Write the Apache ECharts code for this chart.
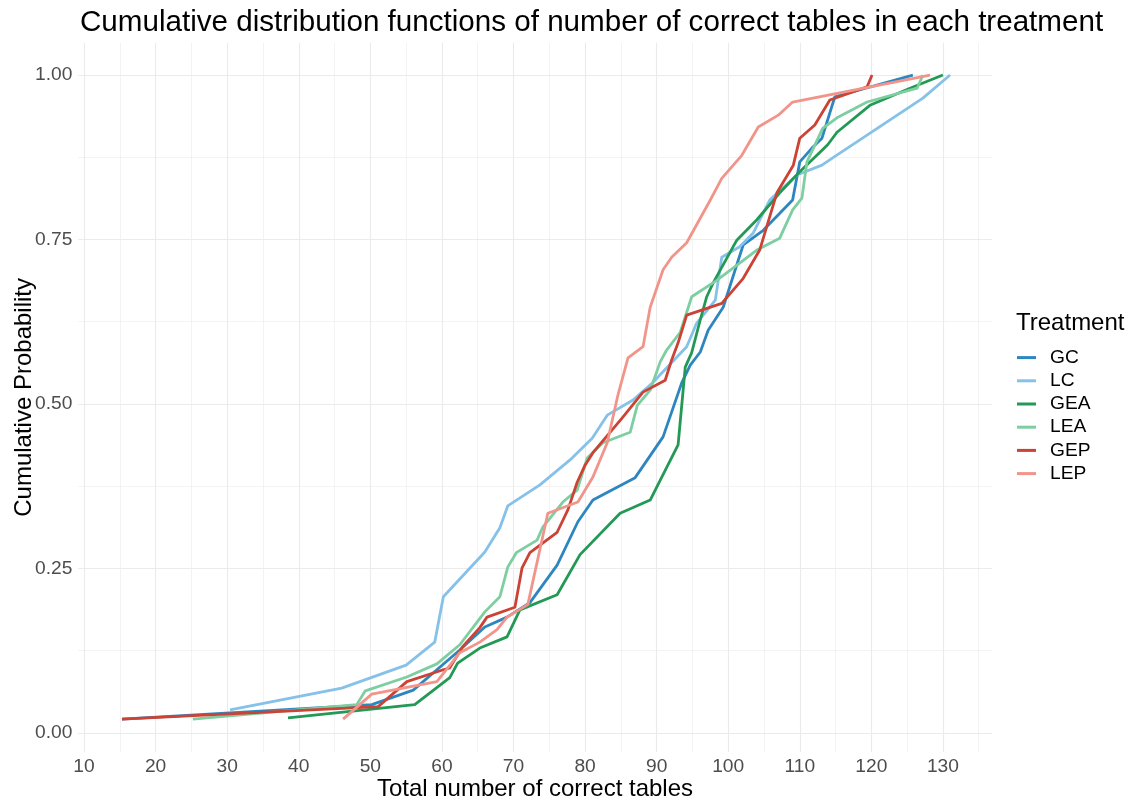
<!DOCTYPE html>
<html>
<head>
<meta charset="utf-8">
<script src="https://cdn.jsdelivr.net/npm/echarts@6/dist/echarts.min.js"></script>
<style>
html,body{margin:0;padding:0;background:#fff;}
#chart{width:1127px;height:801px;}
</style>
</head>
<body>
<div id="chart"></div>
<script>
// ---- data ----
const treatments = ["GC", "LC", "GEA", "LEA", "GEP", "LEP"];
const colors = ["#2E86C1", "#85C1E9", "#229954", "#7DCEA0", "#CB4335", "#F1948A"];

const gcX = [15.3, 50.2, 56.0, 62.5, 66.0, 69.1, 72.3, 76.1, 79.0, 81.1, 87.0, 90.9, 93.5, 94.7, 96.1, 97.2, 99.3, 102.1, 104.9, 109.0, 110.0, 111.7, 113.1, 114.9, 125.8];
const gcY = [0.021, 0.043, 0.065, 0.126, 0.161, 0.176, 0.198, 0.255, 0.321, 0.354, 0.388, 0.450, 0.532, 0.559, 0.579, 0.612, 0.647, 0.742, 0.764, 0.810, 0.868, 0.889, 0.904, 0.967, 1.0];

const lcX = [30.4, 46.0, 55.0, 59.0, 60.2, 66.0, 68.1, 69.2, 73.7, 77.9, 81.0, 83.1, 86.7, 89.4, 94.2, 95.6, 98.2, 99.1, 101.6, 103.5, 105.8, 109.6, 113.1, 114.6, 127.2, 131.0];
const lcY = [0.035, 0.068, 0.103, 0.138, 0.207, 0.275, 0.312, 0.345, 0.377, 0.415, 0.448, 0.483, 0.506, 0.532, 0.587, 0.623, 0.658, 0.723, 0.739, 0.760, 0.810, 0.848, 0.863, 0.874, 0.965, 1.0];

const geaX = [38.5, 56.2, 61.1, 62.2, 65.3, 69.1, 70.9, 76.1, 79.3, 84.9, 89.1, 93.0, 94.0, 94.9, 96.1, 97.0, 97.9, 101.2, 104.0, 107.2, 110.0, 113.9, 115.2, 119.8, 125.4, 130.0];
const geaY = [0.023, 0.043, 0.084, 0.106, 0.129, 0.146, 0.187, 0.210, 0.271, 0.334, 0.354, 0.438, 0.556, 0.578, 0.628, 0.663, 0.684, 0.749, 0.780, 0.821, 0.853, 0.894, 0.913, 0.954, 0.980, 1.0];

const leaX = [25.2, 48.1, 49.3, 55.1, 59.3, 62.5, 66.0, 68.1, 69.2, 70.4, 73.3, 74.1, 76.9, 78.9, 80.3, 82.5, 86.3, 87.3, 89.1, 90.5, 91.4, 93.3, 94.9, 98.4, 104.0, 107.2, 109.0, 110.3, 111.0, 113.2, 115.2, 119.4, 126.4, 127.2];
const leaY = [0.021, 0.043, 0.064, 0.085, 0.105, 0.134, 0.184, 0.207, 0.252, 0.274, 0.293, 0.313, 0.351, 0.369, 0.418, 0.441, 0.457, 0.498, 0.521, 0.564, 0.582, 0.609, 0.663, 0.688, 0.734, 0.752, 0.795, 0.813, 0.868, 0.919, 0.935, 0.959, 0.980, 1.0];

const gepX = [15.3, 51.1, 55.1, 60.2, 61.1, 62.9, 65.3, 66.3, 70.2, 71.2, 72.3, 76.1, 77.6, 78.9, 80.0, 81.1, 85.2, 88.1, 91.2, 92.1, 93.0, 94.2, 99.1, 102.1, 104.4, 106.8, 109.1, 110.0, 112.1, 114.2, 119.4, 120.1];
const gepY = [0.021, 0.040, 0.078, 0.096, 0.099, 0.131, 0.160, 0.176, 0.191, 0.251, 0.274, 0.305, 0.339, 0.381, 0.407, 0.426, 0.479, 0.518, 0.536, 0.567, 0.593, 0.635, 0.653, 0.691, 0.734, 0.821, 0.863, 0.904, 0.924, 0.962, 0.982, 1.0];

const lepX = [46.2, 50.2, 59.3, 62.5, 65.3, 67.7, 69.1, 72.0, 74.8, 79.0, 81.1, 83.1, 84.6, 86.0, 88.1, 89.1, 90.9, 92.1, 94.2, 97.5, 99.1, 101.9, 104.2, 107.0, 109.0, 128.2];
const lepY = [0.021, 0.059, 0.078, 0.122, 0.138, 0.157, 0.176, 0.195, 0.334, 0.351, 0.389, 0.441, 0.514, 0.570, 0.587, 0.647, 0.704, 0.723, 0.745, 0.810, 0.843, 0.878, 0.921, 0.939, 0.959, 1.0];

const seriesX = [gcX, lcX, geaX, leaX, gepX, lepX];
const seriesY = [gcY, lcY, geaY, leaY, gepY, lepY];

// axis ranges / tick spacing
const xRange = [9.2, 136.8];
const yRange = [-0.029, 1.049];
const xMajor = 10, xMinor = 5;
const yMajor = 0.25, yMinor = 0.125;

// ---- chart ----
const FONT = "Liberation Sans, Arial, Helvetica, sans-serif";
const gridCol = "#EBEBEB";
const chart = echarts.init(document.getElementById("chart"), null, {renderer: "canvas"});

function zip(xs, ys) { return xs.map((x, i) => [x, ys[i]]); }

const option = {
  animation: false,
  backgroundColor: "#ffffff",
  textStyle: {fontFamily: FONT},
  title: [
    {text: "Cumulative distribution functions of number of correct tables in each treatment",
     left: 75, top: 3,
     textStyle: {fontFamily: FONT, fontSize: 29.6, fontWeight: "normal", color: "#000"}},
    {text: "Treatment", left: 1011, top: 306,
     textStyle: {fontFamily: FONT, fontSize: 24, fontWeight: "normal", color: "#000"}}
  ],
  grid: {left: 78.3, right: 135.4, top: 42.8, bottom: 49, containLabel: false, outerBoundsMode: "none"},
  legend: {
    orient: "vertical",
    left: 1017, top: 348,
    padding: 0,
    icon: "rect",
    itemWidth: 19, itemHeight: 3,
    itemGap: 4,
    data: treatments,
    textStyle: {fontFamily: FONT, fontSize: 19.2, color: "#000", lineHeight: 19.2, padding: [0, 0, 0, 9]}
  },
  xAxis: [
    {
      type: "value", min: xRange[0], max: xRange[1],
      minInterval: xMajor, maxInterval: xMajor,
      name: "Total number of correct tables", nameLocation: "middle", nameGap: 25,
      nameMoveOverlap: false,
      nameTextStyle: {fontFamily: FONT, fontSize: 24, color: "#000"},
      axisLine: {show: false}, axisTick: {show: false},
      axisLabel: {showMinLabel: false, showMaxLabel: false, margin: 5,
                  fontFamily: FONT, fontSize: 19.2, color: "#4D4D4D"},
      splitLine: {show: true, showMinLine: false, showMaxLine: false,
                  lineStyle: {color: gridCol, width: 1.1}}
    },
    {
      type: "value", min: xRange[0], max: xRange[1],
      minInterval: xMinor, maxInterval: xMinor, position: "bottom",
      axisLine: {show: false}, axisTick: {show: false}, axisLabel: {show: false},
      splitLine: {show: true, showMinLine: false, showMaxLine: false,
                  lineStyle: {color: gridCol, width: 0.6}}
    }
  ],
  yAxis: [
    {
      type: "value", min: yRange[0], max: yRange[1],
      minInterval: yMajor, maxInterval: yMajor,
      name: "Cumulative Probability", nameLocation: "middle", nameGap: 42, nameRotate: 90,
      nameMoveOverlap: false,
      nameTextStyle: {fontFamily: FONT, fontSize: 24, color: "#000"},
      axisLine: {show: false}, axisTick: {show: false},
      axisLabel: {showMinLabel: false, showMaxLabel: false, margin: 6,
                  fontFamily: FONT, fontSize: 19.2, color: "#4D4D4D",
                  formatter: v => v.toFixed(2)},
      splitLine: {show: true, showMinLine: false, showMaxLine: false,
                  lineStyle: {color: gridCol, width: 1.1}}
    },
    {
      type: "value", min: yRange[0], max: yRange[1],
      minInterval: yMinor, maxInterval: yMinor,
      axisLine: {show: false}, axisTick: {show: false}, axisLabel: {show: false},
      splitLine: {show: true, showMinLine: false, showMaxLine: false,
                  lineStyle: {color: gridCol, width: 0.6}}
    }
  ],
  series: treatments.map((name, i) => ({
    name: name,
    type: "line",
    xAxisIndex: 0, yAxisIndex: 0,
    data: zip(seriesX[i], seriesY[i]),
    showSymbol: false,
    symbol: "none",
    color: colors[i],
    lineStyle: {color: colors[i], width: 2.8, cap: "butt", join: "round"},
    itemStyle: {color: colors[i]},
    z: 2 + i
  }))
};
chart.setOption(option);
</script>
</body>
</html>
